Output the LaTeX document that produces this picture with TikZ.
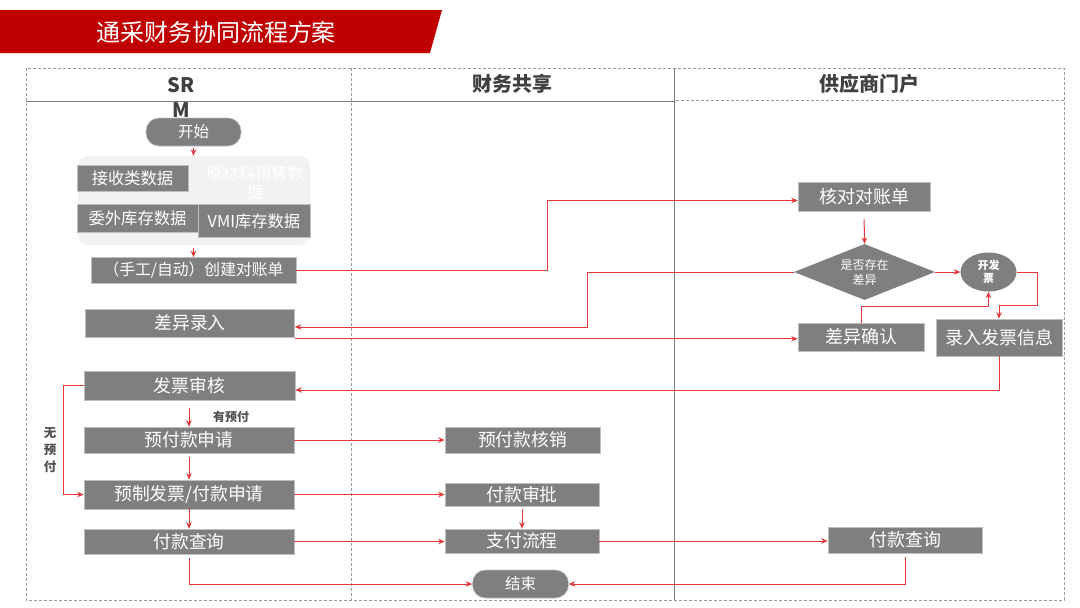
\documentclass[tikz,border=0pt]{standalone}
\usepackage{fontspec}
\setmainfont{Noto Sans CJK SC}
\usetikzlibrary{shapes.geometric,arrows.meta}
\definecolor{titlered}{HTML}{C00000}
\definecolor{boxgray}{HTML}{7F7F7F}
\definecolor{bgray}{HTML}{F2F2F2}
\definecolor{lred}{HTML}{E2383C}
\definecolor{lanegray}{HTML}{9A9A9A}
\definecolor{hdtext}{HTML}{404040}
\tikzset{
  fs/.style={font=\fontsize{#1}{#1}\selectfont},
  box/.style={draw=white!75!black, line width=0.6pt, fill=boxgray, text=white, inner sep=0pt, fs=17.8},
  pill/.style={box, rounded corners=13pt, fs=15.5},
  arr/.style={draw=lred, line width=1pt, -{Stealth[length=6.5pt,width=5.5pt]}},
  lane/.style={draw=lanegray, line width=1pt, dash pattern=on 3pt off 2pt},
  solidlane/.style={draw=lanegray!80!black, line width=1pt},
  hdr/.style={text=hdtext, font=\fontsize{20}{25}\selectfont\bfseries, align=center},
  lbl/.style={text=hdtext!90!white, font=\fontsize{12.5}{17}\selectfont\bfseries, align=center}
}
\begin{document}
\begin{tikzpicture}[x=1pt,y=-1pt]
\useasboundingbox (0,0) rectangle (1080,608);
\fill[white] (0,0) rectangle (1080,608);
% title banner
\fill[titlered] (0,10) -- (442,10) -- (430,53) -- (0,53) -- cycle;
\node[text=white, fs=24] (title) at (216,32) {通采财务协同流程方案};
% lanes
\draw[lane] (26,68) rectangle (1064,600);
\draw[lane] (351,68) -- (351,600);
\draw[solidlane] (674,68) -- (674,600);
\draw[solidlane] (26,101) -- (674,101);
\draw[lane] (676,100) -- (1064,100);
\node[hdr] (h1) at (181,97) {SR\\M};
\node[hdr] (h2) at (512,84) {财务共享};
\node[hdr] (h3) at (869,84) {供应商门户};
% SRM lane
\node[pill, minimum width=95pt, minimum height=28pt] (start) at (193.5,132) {开始};
\node[fill=bgray, rounded corners=10pt, minimum width=232pt, minimum height=89pt, inner sep=0pt] (grp) at (194,200.5) {};
\node[box, fs=16.3, minimum width=111pt, minimum height=26pt] (jsl) at (132.5,178) {接收类数据};
\node[text=white, align=center, font=\fontsize{16.3}{19}\selectfont] (ycl) at (255,182.5) {原材料销售数\\据};
\node[box, fs=16.3, minimum width=121pt, minimum height=28pt] (wwkc) at (137.5,218.5) {委外库存数据};
\node[box, fs=16.3, minimum width=112pt, minimum height=33pt] (vmi) at (254,221) {VMI库存数据};
\node[box, fs=15.8, minimum width=205pt, minimum height=26pt] (crt) at (193.5,270.5) {（手工/自动）创建对账单};
\node[box, minimum width=209pt, minimum height=28pt] (cyl) at (190,323) {差异录入};
\node[box, minimum width=211pt, minimum height=29pt] (fpsh) at (189.5,385.5) {发票审核};
\node[box, minimum width=210pt, minimum height=26pt] (yfksq) at (189,440) {预付款申请};
\node[box, minimum width=210pt, minimum height=29pt] (yzfp) at (189,494.5) {预制发票/付款申请};
\node[box, minimum width=210pt, minimum height=25pt] (fkcx1) at (189,541.5) {付款查询};
\node[lbl, font=\fontsize{12}{14}\selectfont\bfseries] (yyf) at (231,417) {有预付};
\node[lbl] (wyf) at (50,450) {无\\预\\付};
% finance lane
\node[box, minimum width=155pt, minimum height=26pt] (yfkhx) at (522.5,440) {预付款核销};
\node[box, minimum width=154pt, minimum height=23pt] (fksp) at (522,494.5) {付款审批};
\node[box, minimum width=154pt, minimum height=24pt] (zflc) at (522,541) {支付流程};
\node[pill, minimum width=96pt, minimum height=28pt] (end) at (520.5,584) {结束};
% supplier lane
\node[box, fs=18, minimum width=132pt, minimum height=29pt] (hd) at (864,196.5) {核对对账单};
\node[diamond, fill=boxgray, text=white, inner sep=0pt, aspect=2.5, minimum width=141pt, minimum height=56pt, font=\fontsize{12}{15}\selectfont, align=center] (dia) at (864.5,272) {是否存在\\差异};
\node[ellipse, fill=boxgray, text=white, inner sep=0pt, minimum width=56pt, minimum height=39pt, align=center, font=\fontsize{11}{12.5}\selectfont\bfseries] (kfp) at (988.5,272) {开发\\票};
\node[box, fs=18, minimum width=126pt, minimum height=28pt] (cyqr) at (861,337) {差异确认};
\node[box, fs=18, minimum width=126pt, minimum height=37pt] (lrfp) at (999,337.5) {录入发票信息};
\node[box, fs=18, minimum width=154pt, minimum height=26pt] (fkcx3) at (905,540) {付款查询};
% helper coordinates
\coordinate (k1) at (547,0);
\coordinate (k2) at (587,0);
\coordinate (k3) at (0,306);
\coordinate (k4) at (1037,0);
\coordinate (k5) at (0,305);
\coordinate (k6) at (0,390);
\coordinate (k7) at (63,0);
% connectors
\draw[arr, shorten <=2pt] (start.south) -- (grp.north -| start.south);
\draw[arr, shorten <=3pt] (grp.south -| crt.north) -- (crt.north);
\draw[arr] (crt.east) -- (crt.east -| k1) -- ([yshift=-4pt]hd.west -| k1) -- ([yshift=-4pt]hd.west);
\draw[arr, shorten <=8pt] (hd.south) -- (dia.north);
\draw[arr] (dia.west) -- (dia.west -| k2) -- ([yshift=-4pt]cyl.east -| k2) -- ([yshift=-4pt]cyl.east);
\draw[arr] ([yshift=-1.5pt]cyl.south east) -- ([yshift=-1.5pt]cyl.south east -| cyqr.west);
\draw[arr] (dia.east) -- (kfp.west);
\draw[arr] (cyqr.north) -- (cyqr.north |- k3) -| (kfp.south);
\draw[arr] (kfp.east) -- (kfp.east -| k4) -- (k4 |- k5) -| (lrfp.north);
\draw[arr] (lrfp.south) -- (lrfp.south |- k6) -- (k6 -| fpsh.east);
\draw[arr, shorten <=8pt] (fpsh.south -| yfksq.north) -- (yfksq.north);
\draw[arr, shorten <=4pt] (yfksq.south) -- (yzfp.north);
\draw[arr] (yzfp.south) -- (fkcx1.north);
\draw[arr] (fpsh.west) -- (fpsh.west -| k7) -- (k7 |- yzfp.west) -- (yzfp.west);
\draw[arr] (yfksq.east) -- (yfkhx.west);
\draw[arr] (yzfp.east) -- (yzfp.east -| fksp.west);
\draw[arr, shorten <=3pt] (fksp.south) -- (zflc.north);
\draw[arr] (fkcx1.east) -- (fkcx1.east -| zflc.west);
\draw[arr] (zflc.east) -- (zflc.east -| fkcx3.west);
\draw[arr, shorten <=4pt] (fkcx1.south) -- (fkcx1.south |- end.west) -- (end.west);
\draw[arr, shorten <=4pt] (fkcx3.south) -- (fkcx3.south |- end.east) -- (end.east);
\end{tikzpicture}
\end{document}
